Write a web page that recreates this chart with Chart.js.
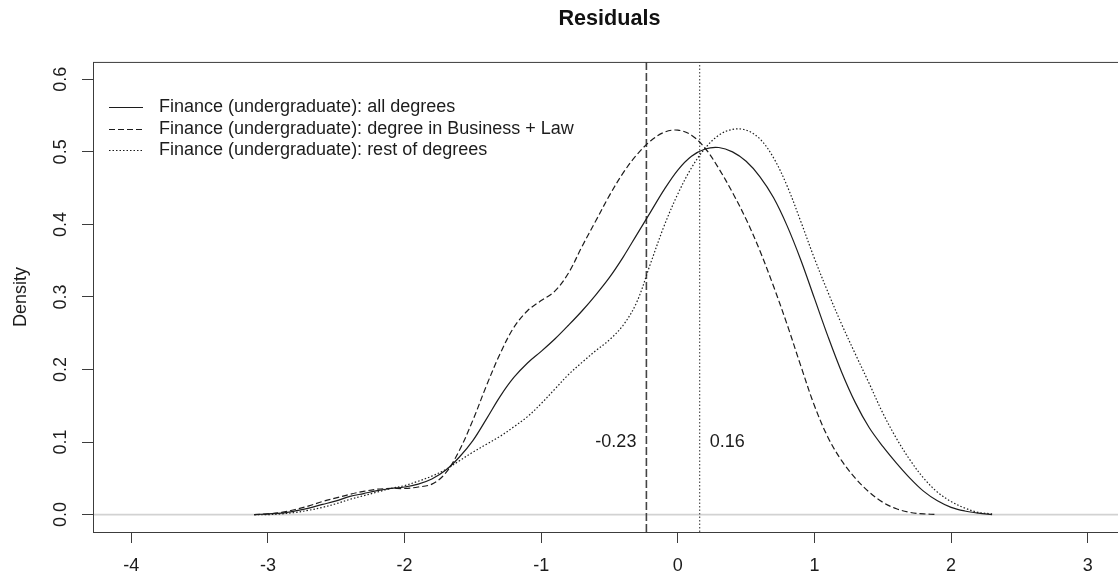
<!DOCTYPE html>
<html>
<head>
<meta charset="utf-8">
<title>Residuals</title>
<script src="https://cdn.jsdelivr.net/npm/chart.js@4.4.1/dist/chart.umd.min.js"></script>
<style>
    html, body { margin: 0; padding: 0; background: #fff; overflow: hidden; }
    #wrap { width: 1118px; height: 577px; overflow: hidden; }
    #wrap canvas { display: block; }
</style>
</head>
<body>
<div id="wrap"><canvas id="chart" width="1140" height="577"></canvas></div>
<script>
// density grid (residual values) shared by the three curves
const xGrid = [-3.1, -3.0, -2.9, -2.8, -2.7, -2.6, -2.5, -2.4, -2.3, -2.2, -2.1, -2.0, -1.9, -1.8, -1.7, -1.6,
    -1.5, -1.4, -1.3, -1.2, -1.1, -1.0, -0.9, -0.8, -0.7, -0.6, -0.5, -0.4, -0.3, -0.2, -0.1, 0.0,
    0.1, 0.2, 0.3, 0.4, 0.5, 0.6, 0.7, 0.8, 0.9, 1.0, 1.1, 1.2, 1.3, 1.4, 1.5, 1.6,
    1.7, 1.8, 1.9, 2.0, 2.1, 2.2, 2.3];

const allDegrees = [0.000, 0.001, 0.002, 0.005, 0.009, 0.014, 0.019, 0.025, 0.029, 0.033, 0.036, 0.038, 0.042, 0.049, 0.061, 0.079,
    0.102, 0.132, 0.163, 0.189, 0.209, 0.225, 0.242, 0.261, 0.281, 0.303, 0.327, 0.355, 0.386, 0.417, 0.448, 0.475,
    0.494, 0.504, 0.506, 0.500, 0.487, 0.466, 0.437, 0.398, 0.351, 0.298, 0.245, 0.196, 0.154, 0.120, 0.094, 0.071,
    0.050, 0.032, 0.019, 0.010, 0.005, 0.002, 0.000];

const businessLaw = [0.000, 0.001, 0.003, 0.007, 0.012, 0.018, 0.023, 0.028, 0.032, 0.035, 0.036, 0.036, 0.038, 0.042, 0.057, 0.088,
    0.130, 0.178, 0.222, 0.258, 0.281, 0.295, 0.308, 0.333, 0.370, 0.405, 0.440, 0.471, 0.496, 0.515, 0.527, 0.530,
    0.523, 0.505, 0.477, 0.444, 0.407, 0.364, 0.315, 0.262, 0.205, 0.150, 0.106, 0.074, 0.050, 0.031, 0.017, 0.008,
    0.003, 0.001, 0.000, null, null, null, null];

const restDegrees = [0.000, 0.000, 0.001, 0.003, 0.006, 0.010, 0.015, 0.021, 0.026, 0.031, 0.036, 0.040, 0.046, 0.053, 0.062, 0.074,
    0.086, 0.097, 0.108, 0.121, 0.135, 0.153, 0.173, 0.193, 0.210, 0.226, 0.241, 0.261, 0.293, 0.346, 0.398, 0.442,
    0.478, 0.505, 0.523, 0.531, 0.530, 0.518, 0.492, 0.453, 0.404, 0.353, 0.306, 0.262, 0.221, 0.181, 0.140, 0.105,
    0.075, 0.050, 0.031, 0.018, 0.009, 0.003, 0.001];

const seriesLabels = [
    'Finance (undergraduate): all degrees',
    'Finance (undergraduate): degree in Business + Law',
    'Finance (undergraduate): rest of degrees'
];

// means marked with vertical lines
const meanValues = [-0.23, 0.16];
const meanLabels = ['-0.23', '0.16'];
const meanLabelY = 0.1;

const xTicks = [-4, -3, -2, -1, 0, 1, 2, 3];
const yTicks = [0.0, 0.1, 0.2, 0.3, 0.4, 0.5, 0.6];
const xRange = [-4.28, 3.28];
const yRange = [-0.024, 0.624];

const FONT = "'Liberation Sans', Arial, sans-serif";
const ink = '#1c1c1c';
const frame = '#3c3c3c';
const solidDash = [];
const dashDash = [6, 3];
const dotDash = [1.5, 2];
const styles = [solidDash, dashDash, dotDash];

function points(values) {
    return xGrid.map((x, i) => ({ x: x, y: values[i] }));
}

function curve(label, values, dash) {
    return {
        label: label,
        data: points(values),
        borderColor: ink,
        borderWidth: 1.2,
        borderDash: dash,
        pointRadius: 0,
        tension: 0.35,
        fill: false,
        spanGaps: false
    };
}

function vline(v, dash, width) {
    return {
        label: 'mean ' + v,
        data: [{ x: v, y: yRange[0] }, { x: v, y: yRange[1] }],
        borderColor: '#444',
        borderWidth: width,
        borderDash: dash,
        pointRadius: 0,
        fill: false
    };
}

/** R style frame, mean labels and legend. */
const rDecor = {
    id: 'rDecor',
    afterDatasetsDraw(chart) {
        const { ctx, chartArea: a, scales } = chart;
        const x = scales.x;
        const y = scales.y;
        ctx.save();
        ctx.strokeStyle = frame;
        ctx.lineWidth = 1;
        ctx.setLineDash([]);
        ctx.strokeRect(a.left + 0.5, a.top + 0.5, a.right - a.left, a.bottom - a.top);

        ctx.fillStyle = ink;
        ctx.font = '18px ' + FONT;
        ctx.textBaseline = 'middle';
        const ly = y.getPixelForValue(meanLabelY);
        meanValues.forEach((m, i) => {
            const px = x.getPixelForValue(m);
            ctx.textAlign = m < 0 ? 'right' : 'left';
            ctx.fillText(meanLabels[i], px + (m < 0 ? -10 : 10), ly);
        });

        ctx.textAlign = 'left';
        seriesLabels.forEach((lab, i) => {
            const ry = 107 + i * 21.6;
            ctx.beginPath();
            ctx.strokeStyle = ink;
            ctx.lineWidth = 1.2;
            ctx.setLineDash(styles[i]);
            ctx.moveTo(109, Math.round(ry) + 0.5);
            ctx.lineTo(143, Math.round(ry) + 0.5);
            ctx.stroke();
            ctx.fillText(lab, 159, ry);
        });
        ctx.restore();
    }
};

new Chart(document.getElementById('chart'), {
    type: 'line',
    data: {
        datasets: [
            curve(seriesLabels[0], allDegrees, solidDash),
            curve(seriesLabels[1], businessLaw, dashDash),
            curve(seriesLabels[2], restDegrees, dotDash),
            vline(meanValues[0], [8, 3], 1.6),
            vline(meanValues[1], [1.5, 2], 1.1),
            {
                label: 'zero',
                data: [{ x: xRange[0], y: 0 }, { x: xRange[1], y: 0 }],
                borderColor: '#d2d2d2',
                borderWidth: 1.6,
                pointRadius: 0,
                fill: false
            }
        ]
    },
    options: {
        responsive: false,
        animation: false,
        events: [],
        layout: { padding: { left: 0, right: 14, top: 0, bottom: 0 } },
        plugins: {
            legend: { display: false },
            tooltip: { enabled: false },
            title: {
                display: true,
                fullSize: false,
                text: 'Residuals',
                color: '#111',
                font: { family: FONT, size: 21.6, weight: 'bold', lineHeight: 1.2 },
                padding: { top: 5.7, bottom: 30.3 }
            }
        },
        scales: {
            x: {
                type: 'linear',
                min: xRange[0],
                max: xRange[1],
                afterBuildTicks(scale) {
                    scale.ticks = xTicks.map((v) => ({ value: v }));
                },
                afterFit(scale) {
                    scale.height = 45;
                },
                border: { display: false },
                grid: { drawOnChartArea: false, drawTicks: true, tickLength: 11, color: frame, lineWidth: 1 },
                ticks: {
                    autoSkip: false,
                    maxRotation: 0,
                    padding: 12.5,
                    color: ink,
                    font: { family: FONT, size: 18 },
                    callback: (v) => String(v)
                }
            },
            y: {
                type: 'linear',
                min: yRange[0],
                max: yRange[1],
                afterBuildTicks(scale) {
                    scale.ticks = yTicks.map((v) => ({ value: v }));
                },
                afterFit(scale) {
                    scale.width = 93;
                },
                border: { display: false },
                grid: { drawOnChartArea: false, drawTicks: true, tickLength: 11, color: frame, lineWidth: 1 },
                ticks: {
                    minRotation: 90,
                    maxRotation: 90,
                    crossAlign: 'center',
                    padding: 8.8,
                    color: ink,
                    font: { family: FONT, size: 18 },
                    callback: (v) => v.toFixed(1)
                },
                title: {
                    display: true,
                    text: 'Density',
                    color: ink,
                    font: { family: FONT, size: 18 },
                    padding: { top: 10.7, bottom: 0 }
                }
            }
        }
    },
    plugins: [rDecor]
});
</script>
</body>
</html>
